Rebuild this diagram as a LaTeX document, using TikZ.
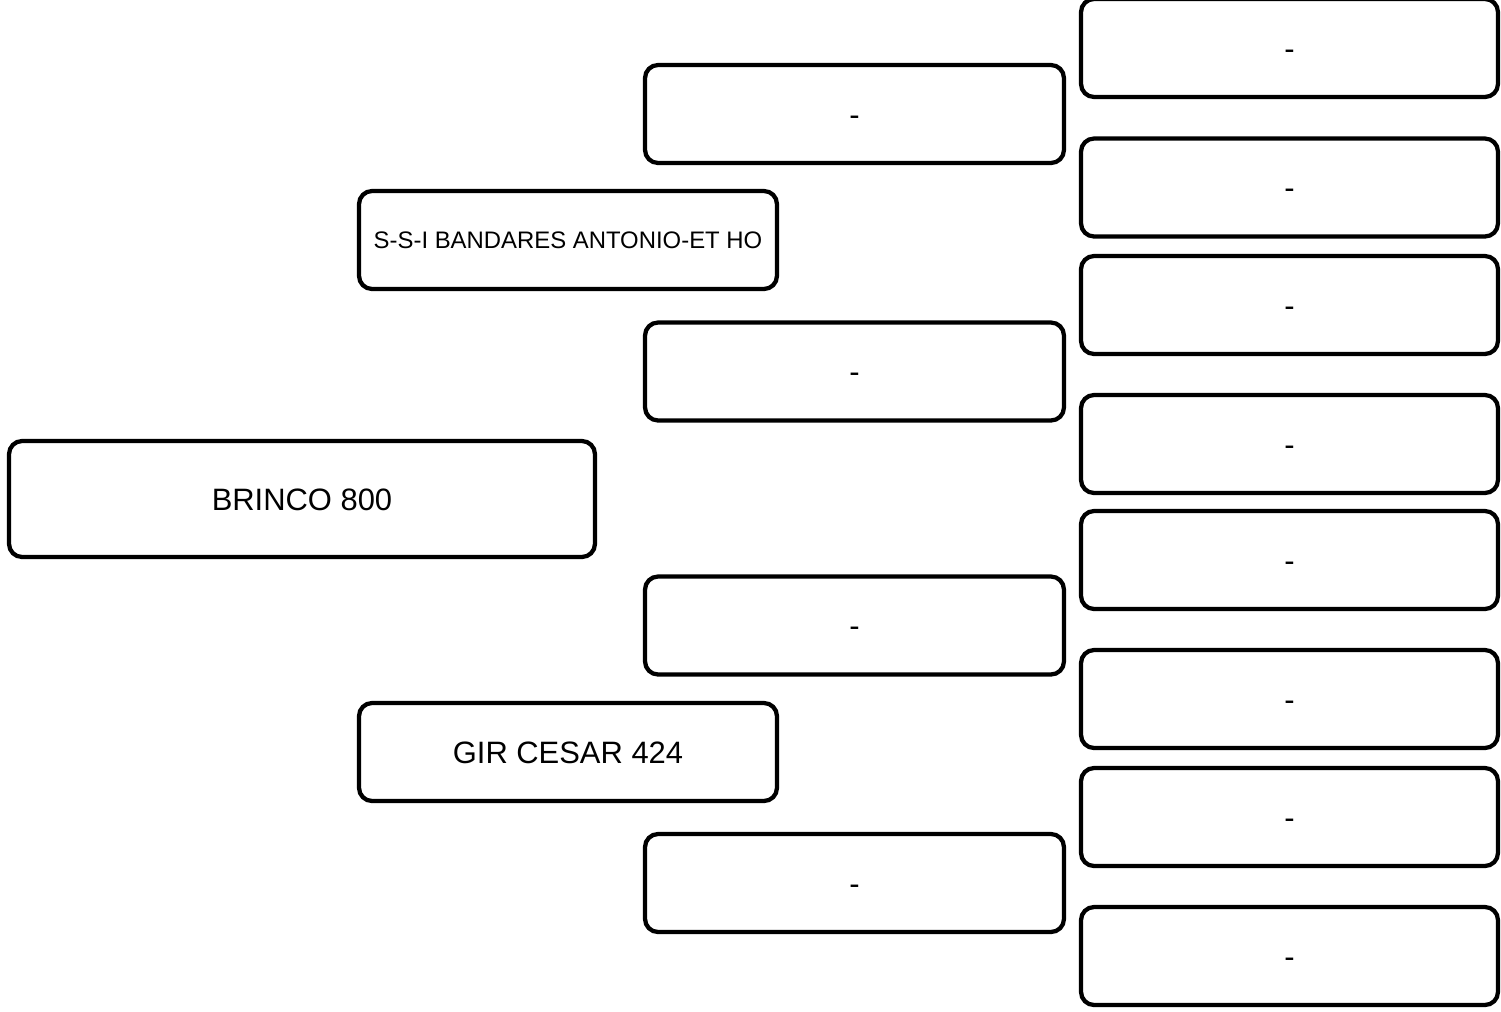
\documentclass[tikz,border=0pt]{standalone}
\usepackage{fontspec}
\setmainfont{Liberation Sans}
\usetikzlibrary{positioning}

\begin{document}
\begin{tikzpicture}[
  x=0.02cm, y=-0.02cm,
  font=\fontsize{17.6}{21}\selectfont,
  box/.style={rectangle, rounded corners=0.26cm, draw=black, line width=0.085cm,
              fill=white, minimum width=#1, minimum height=1.96cm,
              text height=12.7pt, text depth=0pt,
              align=center, inner sep=0pt},
  box/.default=8.36cm,
  rootbox/.style={box=11.72cm, minimum height=2.32cm},
  small/.style={font=\fontsize{13.6}{16}\selectfont, text height=9.8pt},
]
\useasboundingbox (0,0) rectangle (1501,1011);

% ================= NODES (explicit coords, px) =================
\node[rootbox]          (root)  at (302,499)    {BRINCO 800};

\node[box, small]       (sire)  at (568,240)    {S-S-I BANDARES ANTONIO-ET HO};
\node[box]              (dam)   at (568,752)    {GIR CESAR 424};

\node[box=8.38cm]       (ss)    at (854.5,114)  {-};
\node[box=8.38cm]       (sd)    at (854.5,371.5){-};
\node[box=8.38cm]       (ds)    at (854.5,625.5){-};
\node[box=8.38cm]       (dd)    at (854.5,883)  {-};

% great-grandparents (right column)
\node[box=8.34cm]       (sss)   at (1289.5,48)  {-};
\node[box=8.34cm]       (ssd)   at (1289.5,187.5){-};
\node[box=8.34cm]       (sds)   at (1289.5,305) {-};
\node[box=8.34cm]       (sdd)   at (1289.5,444) {-};
\node[box=8.34cm]       (dss)   at (1289.5,560) {-};
\node[box=8.34cm]       (dsd)   at (1289.5,699) {-};
\node[box=8.34cm]       (dds)   at (1289.5,817) {-};
\node[box=8.34cm]       (ddd)   at (1289.5,956) {-};

\end{tikzpicture}
\end{document}
